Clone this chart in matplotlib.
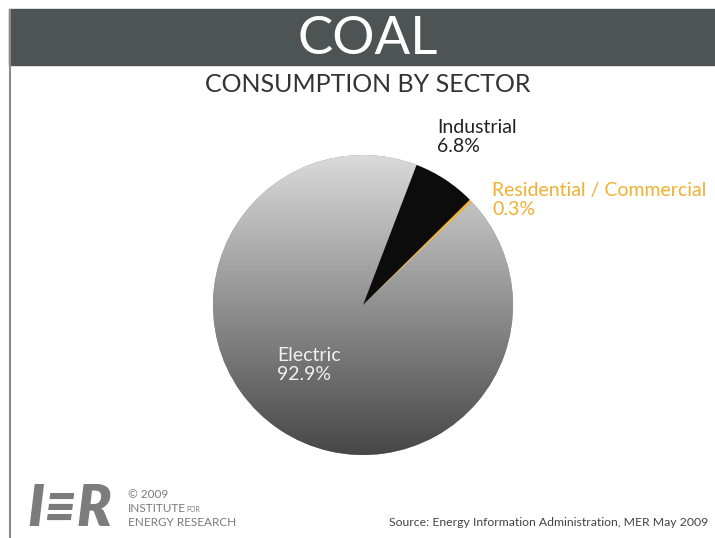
import numpy as np
import matplotlib
matplotlib.use("Agg")
import matplotlib.pyplot as plt
from matplotlib.colors import LinearSegmentedColormap

# Data
sectors = ["Residential / Commercial", "Industrial", "Electric"]
shares = [0.3, 6.8, 92.9]
label_texts = ["Residential / Commercial\n0.3%", "Industrial\n6.8%", "Electric\n92.9%"]

W, H = 715, 538
fig = plt.figure(figsize=(W / 100, H / 100), dpi=100)
ax = fig.add_axes([0, 0, 1, 1])
ax.set_xlim(0, W)
ax.set_ylim(0, H)
ax.set_aspect("equal")
ax.axis("off")

FONT = ["Lato", "DejaVu Sans"]

def Y(y):
    return H - y

# Header band and left border
ax.add_patch(plt.Rectangle((9, Y(65)), W - 9, 56, color="#4e5354", zorder=1))
ax.plot([10, 10], [Y(10), 0], color="#8a8a8a", lw=1.5, zorder=1)
ax.text(368, Y(40), "COAL", color="white", fontsize=38, fontfamily=FONT,
        fontweight="normal", ha="center", va="center", zorder=2)
ax.text(368, Y(84), "CONSUMPTION BY SECTOR", color="#333333", fontsize=18,
        fontfamily=FONT, fontweight="normal", ha="center", va="center", zorder=2)

# Pie
cx, cy, r = 363, Y(305), 150
colors = ["#f2b233", "#0c0c0c", "#888888"]
wedges, _ = ax.pie(shares, colors=colors, startangle=43.5, counterclock=True,
                   center=(cx, cy), radius=r, frame=True,
                   wedgeprops=dict(linewidth=0))
ax.set_xlim(0, W)
ax.set_ylim(0, H)
ax.axis("off")

# Gradient for Electric wedge
cmap = LinearSegmentedColormap.from_list("g", ["#474747", "#dadada"])
grad = np.linspace(0, 1, 256).reshape(-1, 1)
im = ax.imshow(grad, cmap=cmap, origin="lower", aspect="auto",
               extent=(cx - r, cx + r, cy - r, cy + r), zorder=3)
im.set_clip_path(wedges[2])
for w in wedges[:2]:
    w.set_zorder(4)

# Labels
ax.text(437, Y(137), "Industrial\n6.8%", color="#222222", fontsize=14,
        fontfamily=FONT, ha="left", va="center",
        linespacing=1.2, zorder=5)
ax.text(492, Y(200), "Residential / Commercial\n0.3%", color="#f0b030",
        fontsize=14, fontfamily=FONT, ha="left",
        va="center", linespacing=1.2, zorder=5)
ax.text(277, Y(365), "Electric\n92.9%", color="#f0f0f0", fontsize=14,
        fontfamily=FONT, ha="left", va="center",
        linespacing=1.2, zorder=5)

# Logo
ax.text(27, Y(509), "I\u2261R", color="#7c7c7c", fontsize=41, fontfamily=FONT,
        fontweight="heavy", fontstyle="italic", ha="left", va="center", zorder=5)
ax.text(128, Y(495), "\u00a9 2009", color="#7a7a7a", fontsize=8.5,
        fontfamily=FONT, ha="left", va="center")
ax.text(128, Y(509), "INSTITUTE", color="#7a7a7a", fontsize=8.5,
        fontfamily=FONT, ha="left", va="center")
ax.text(186, Y(510), "FOR", color="#7a7a7a", fontsize=5,
        fontfamily=FONT, ha="left", va="center")
ax.text(128, Y(522), "ENERGY RESEARCH", color="#7a7a7a", fontsize=8.5,
        fontfamily=FONT, ha="left", va="center")

ax.text(708, Y(522), "Source: Energy Information Administration, MER May 2009",
        color="#444444", fontsize=8.8, fontfamily=FONT, ha="right", va="center")

fig.savefig("out.png", dpi=100)
